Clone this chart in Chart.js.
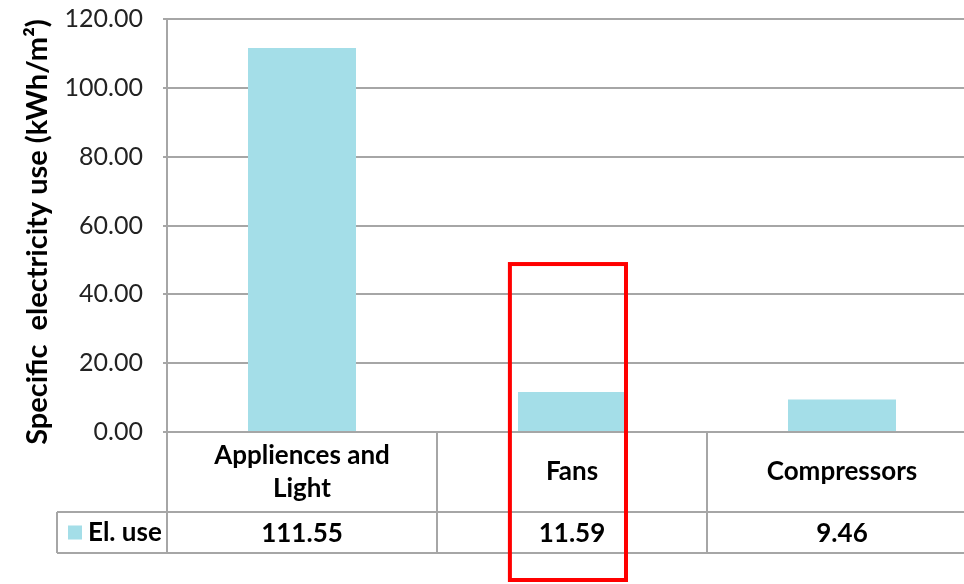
<!DOCTYPE html>
<html>
<head>
<meta charset="utf-8">
<script src="https://cdn.jsdelivr.net/npm/chart.js@4/dist/chart.umd.min.js"></script>
<style>
  html, body { margin: 0; padding: 0; background: #fff; overflow: hidden; }
  #wrap { width: 980px; height: 584px; }
</style>
</head>
<body>
<div id="wrap"><canvas id="chart" width="980" height="584"></canvas></div>
<script>
// data
const categories = [['Appliences and', 'Light'], ['Fans'], ['Compressors']];
const elUse = [111.55, 11.59, 9.46];
const seriesName = 'El. use';
const yTicks = [0, 20, 40, 60, 80, 100, 120];
const yTitle = 'Specific  electricity use (kWh/m\u00B2)';
const highlightIndex = 1;   // the red box around "Fans"
const highlightTop = 48.8;  // where the box starts, in axis units

const FONT = 'Lato, "Open Sans", sans-serif';
const BAR = '#A4DEE8';
const LINE = '#a6a6a6';

// data table + title + red highlight, drawn after the bars
const tablePlugin = {
    id: 'dataTable',
    afterDraw(chart) {
        const ctx = chart.ctx;
        const x = chart.scales.x;
        const y = chart.scales.y;
        const area = chart.chartArea;
        const colW = (area.right - area.left) / categories.length;
        const top = area.bottom;
        const mid = top + 80;
        const bot = mid + 41;
        const legLeft = 57;

        ctx.save();
        ctx.strokeStyle = LINE;
        ctx.lineWidth = 2;
        ctx.beginPath();
        ctx.moveTo(legLeft, mid); ctx.lineTo(area.right, mid);
        ctx.moveTo(legLeft, bot); ctx.lineTo(area.right, bot);
        ctx.moveTo(legLeft, mid); ctx.lineTo(legLeft, bot);
        for (let i = 0; i < categories.length; i++) {
            const cx = area.left + i * colW;
            ctx.moveTo(cx, top); ctx.lineTo(cx, bot);
        }
        ctx.stroke();

        ctx.fillStyle = '#000';
        ctx.textAlign = 'center';
        ctx.textBaseline = 'middle';
        ctx.font = 'bold 26px ' + FONT;
        categories.forEach((lines, i) => {
            const cx = x.getPixelForValue(i);
            const cy = (top + mid) / 2;
            const lh = 33;
            lines.forEach((t, k) => {
                ctx.fillText(t, cx, cy + (k - (lines.length - 1) / 2) * lh);
            });
            ctx.fillText(elUse[i].toFixed(2), cx, (mid + bot) / 2 + 1);
        });

        // legend key in the table
        ctx.fillStyle = BAR;
        ctx.fillRect(68, (mid + bot) / 2 - 7, 14, 14);
        ctx.fillStyle = '#000';
        ctx.textAlign = 'left';
        ctx.fillText(seriesName, 88, (mid + bot) / 2);

        // axis title
        ctx.save();
        ctx.font = 'bold 29px ' + FONT;
        ctx.translate(38, 232);
        ctx.rotate(-Math.PI / 2);
        ctx.textAlign = 'center';
        ctx.fillText(yTitle, 0, 0);
        ctx.restore();

        // red highlight box
        const hc = x.getPixelForValue(highlightIndex);
        ctx.strokeStyle = '#ff0000';
        ctx.lineWidth = 4;
        ctx.strokeRect(hc - colW * 0.23, y.getPixelForValue(highlightTop),
            colW * 0.43, chart.height - 4 - y.getPixelForValue(highlightTop));
        ctx.restore();
    }
};

new Chart(document.getElementById('chart'), {
    type: 'bar',
    data: {
        labels: categories,
        datasets: [{
            label: seriesName,
            data: elUse,
            backgroundColor: BAR,
            barPercentage: 0.4,
            categoryPercentage: 1
        }]
    },
    options: {
        responsive: false,
        animation: false,
        layout: { padding: { top: 19, right: 3, bottom: 152, left: 0 } },
        plugins: { legend: { display: false }, tooltip: { enabled: false } },
        scales: {
            x: {
                display: false
            },
            y: {
                min: 0,
                max: 120,
                afterBuildTicks: (s) => { s.ticks = yTicks.map(v => ({ value: v })); },
                afterFit: (s) => {
                    s.width = 167;
                    // let the plot start right at the layout padding
                    s.paddingTop = 0;
                    s.paddingBottom = 0;
                },
                grid: { color: LINE, lineWidth: 2, tickLength: 4 },
                border: { color: LINE, width: 2 },
                ticks: {
                    padding: 20,
                    color: '#222',
                    font: { family: FONT, size: 25 },
                    callback: (v) => Number(v).toFixed(2)
                }
            }
        }
    },
    plugins: [tablePlugin]
});
</script>
</body>
</html>
